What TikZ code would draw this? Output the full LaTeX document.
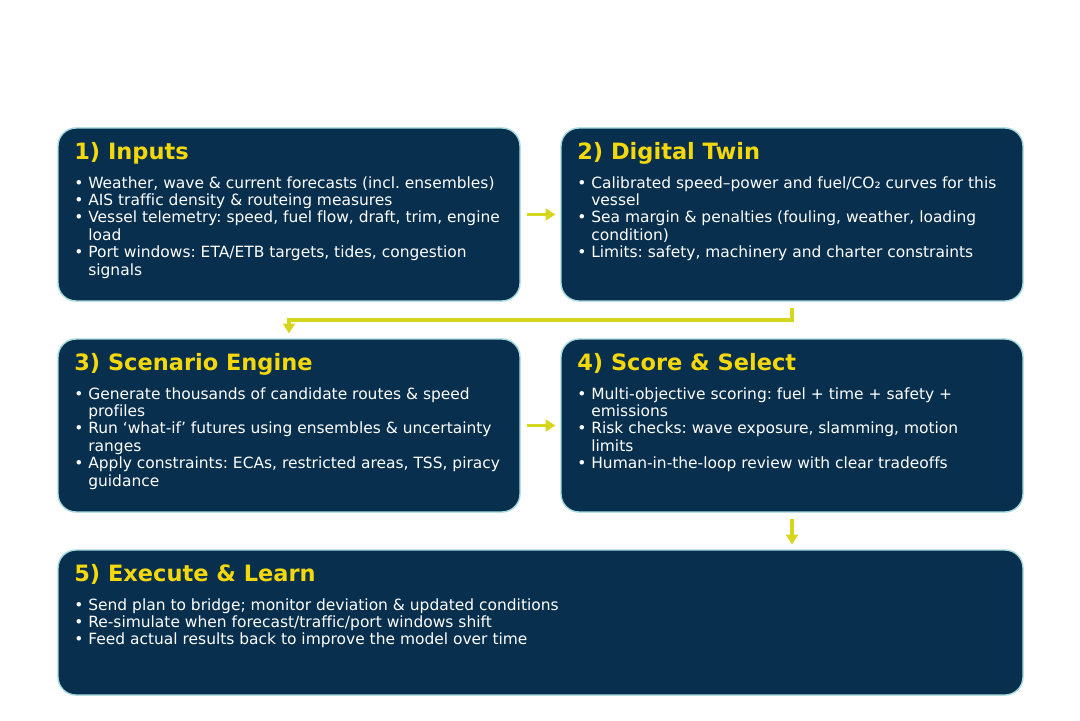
\documentclass[tikz,border=0pt]{standalone}
\usepackage{fontspec}
\setmainfont{DejaVu Sans}[Ligatures=CommonOff]
\usepackage{xcolor}
\usetikzlibrary{arrows.meta,positioning}
\frenchspacing

\definecolor{navy}{HTML}{08304E}
\definecolor{rim}{HTML}{A5DADC}
\definecolor{gold}{HTML}{F5D80C}
\definecolor{flow}{HTML}{D6D61E}

\newcommand{\bul}{\textbullet\ }
\newcommand{\ind}{\hphantom{\textbullet}\ }

\begin{document}
\begin{tikzpicture}[
    box/.style={rectangle, rounded corners=0.45cm, draw=rim, line width=1pt, fill=navy,
        minimum width=11.55cm, minimum height=4.325cm, inner sep=0pt, outer sep=0pt},
    wide/.style={box, minimum width=24.125cm, minimum height=3.625cm},
    title/.style={inner sep=0pt, anchor=north west, text=gold, font=\fontsize{16}{19}\selectfont\bfseries,
        text height=11.8pt, text depth=3.5pt},
    body/.style={inner sep=0pt, anchor=north west, text=white, align=left,
        font=\fontsize{11}{12.4}\selectfont},
    arrow/.style={-{Triangle[length=7pt,width=8.5pt]}, line width=2.3pt, draw=flow,
        shorten <=0.175cm, shorten >=0.14cm}
]
    \path[fill=white] (0,0) rectangle (27,18);

    % Top row
    \node[box, anchor=north west] (in) at (1.45,14.8) {};
    \node[box, right=1.025cm of in] (twin) {};

    % Middle row
    \node[box, below=0.95cm of in] (scen) {};
    \node[box, right=1.025cm of scen] (score) {};

    % Bottom row
    \node[wide, below=0.95cm of scen.south west, anchor=north west] (exec) {};

    % Titles
    \node[title, below right=0.37cm and 0.4cm of in.north west] (in-t) {1) Inputs};
    \node[title, below right=0.37cm and 0.4cm of twin.north west] (twin-t) {2) Digital Twin};
    \node[title, below right=0.37cm and 0.4cm of scen.north west] (scen-t) {3) Scenario Engine};
    \node[title, below right=0.37cm and 0.4cm of score.north west] (score-t) {4) Score \& Select};
    \node[title, below right=0.37cm and 0.4cm of exec.north west] (exec-t) {5) Execute \& Learn};

    % Bullet lists
    \node[body, below right=1.19cm and 0.4cm of in.north west] (in-b) {\strut\bul Weather, wave \& current forecasts (incl. ensembles)\\
        \bul AIS traffic density \& routeing measures\\
        \bul Vessel telemetry: speed, fuel flow, draft, trim, engine\\
        \ind load\\
        \bul Port windows: ETA/ETB targets, tides, congestion\\
        \ind signals};
    \node[body, below right=1.19cm and 0.4cm of twin.north west] (twin-b) {\strut\bul Calibrated speed–power and fuel/CO₂ curves for this\\
        \ind vessel\\
        \bul Sea margin \& penalties (fouling, weather, loading\\
        \ind condition)\\
        \bul Limits: safety, machinery and charter constraints};
    \node[body, below right=1.19cm and 0.4cm of scen.north west] (scen-b) {\strut\bul Generate thousands of candidate routes \& speed\\
        \ind profiles\\
        \bul Run ‘what-if’ futures using ensembles \& uncertainty\\
        \ind ranges\\
        \bul Apply constraints: ECAs, restricted areas, TSS, piracy\\
        \ind guidance};
    \node[body, below right=1.19cm and 0.4cm of score.north west] (score-b) {\strut\bul Multi-objective scoring: fuel + time + safety +\\
        \ind emissions\\
        \bul Risk checks: wave exposure, slamming, motion\\
        \ind limits\\
        \bul Human-in-the-loop review with clear tradeoffs};
    \node[body, below right=1.19cm and 0.4cm of exec.north west] (exec-b) {\strut\bul Send plan to bridge; monitor deviation \& updated conditions\\
        \bul Re-simulate when forecast/traffic/port windows shift\\
        \bul Feed actual results back to improve the model over time};

    % Arrows
    \draw[arrow] (in) -- (twin);
    \draw[arrow] (scen) -- (score);
    \draw[arrow] (twin.south) -- ++(0,-0.475) -| (scen.north);
    \draw[arrow] (score.south) -- (score.south |- exec.north);

\end{tikzpicture}
\end{document}
